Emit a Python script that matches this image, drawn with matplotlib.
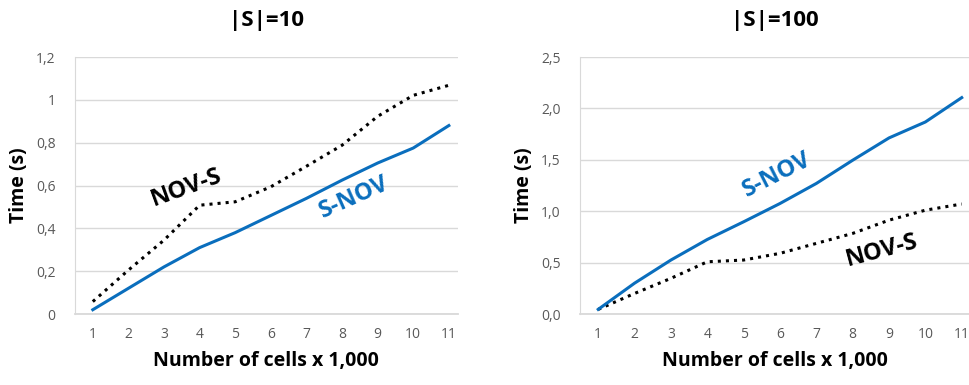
import matplotlib
matplotlib.use("Agg")
from matplotlib import pyplot as plt

plt.rcParams['font.family'] = ['Open Sans', 'DejaVu Sans']

cells = [1, 2, 3, 4, 5, 6, 7, 8, 9, 10, 11]

# |S| = 10
snov_10 = [0.02, 0.12, 0.22, 0.31, 0.38, 0.46, 0.54, 0.625, 0.705, 0.775, 0.88]
novs_10 = [0.058, 0.205, 0.345, 0.508, 0.524, 0.594, 0.69, 0.788, 0.923, 1.021, 1.068]

# |S| = 100
snov_100 = [0.045, 0.30, 0.525, 0.725, 0.897, 1.075, 1.27, 1.496, 1.713, 1.868, 2.105]
novs_100 = [0.045, 0.20, 0.347, 0.508, 0.525, 0.59, 0.687, 0.784, 0.913, 1.01, 1.07]

y_ticks_10 = [0, 0.2, 0.4, 0.6, 0.8, 1.0, 1.2]
y_labels_10 = ['0', '0,2', '0,4', '0,6', '0,8', '1', '1,2']
y_ticks_100 = [0, 0.5, 1.0, 1.5, 2.0, 2.5]
y_labels_100 = ['0,0', '0,5', '1,0', '1,5', '2,0', '2,5']

BLUE = '#0A6EBD'
GRID = '#d9d9d9'
TICK = '#595959'

fig = plt.figure(figsize=(9.69, 3.85), dpi=100)
ax1 = fig.add_axes([0.0774, 0.1844, 0.395, 0.6675])
ax2 = fig.add_axes([0.5986, 0.1844, 0.4014, 0.6675])


def style_axis(ax, title, yt, yl, xmax):
    ax.set_xlim(0.5, xmax)
    ax.set_ylim(yt[0], yt[-1])
    ax.set_yticks(yt)
    ax.set_yticklabels(yl)
    ax.set_xticks(cells)
    ax.grid(axis='y', color=GRID, linewidth=1.0)
    ax.set_axisbelow(True)
    for s in ['top', 'right']:
        ax.spines[s].set_visible(False)
    ax.spines['left'].set_color(GRID)
    ax.spines['bottom'].set_color(GRID)
    ax.spines['bottom'].set_linewidth(1.3)
    ax.tick_params(length=0, labelsize=10, labelcolor=TICK, pad=9)
    ax.tick_params(axis='y', pad=14)
    ax.set_title(title, fontsize=16, fontweight='bold', pad=22)
    ax.set_xlabel('Number of cells x 1,000', fontsize=14, fontweight='bold', labelpad=7)
    ax.set_ylabel('Time (s)', fontsize=14, fontweight='bold', labelpad=5)


ax1.plot(cells, novs_10, color='black', linestyle=':', linewidth=2.2)
ax1.plot(cells, snov_10, color=BLUE, linewidth=2.2)
style_axis(ax1, '|S|=10', y_ticks_10, y_labels_10, 11.25)
ax1.text(3.63, 0.588, 'NOV-S', rotation=20, fontsize=17, fontweight='bold',
         ha='center', va='center', color='black')
ax1.text(8.34, 0.546, 'S-NOV', rotation=24, fontsize=17, fontweight='bold',
         ha='center', va='center', color=BLUE)

ax2.plot(cells, novs_100, color='black', linestyle=':', linewidth=2.2)
ax2.plot(cells, snov_100, color=BLUE, linewidth=2.2)
style_axis(ax2, '|S|=100', y_ticks_100, y_labels_100, 11.2)
ax2.text(5.92, 1.35, 'S-NOV', rotation=27, fontsize=17, fontweight='bold',
         ha='center', va='center', color=BLUE)
ax2.text(8.8, 0.62, 'NOV-S', rotation=15, fontsize=17, fontweight='bold',
         ha='center', va='center', color='black')

plt.savefig('out.png', dpi=100)
